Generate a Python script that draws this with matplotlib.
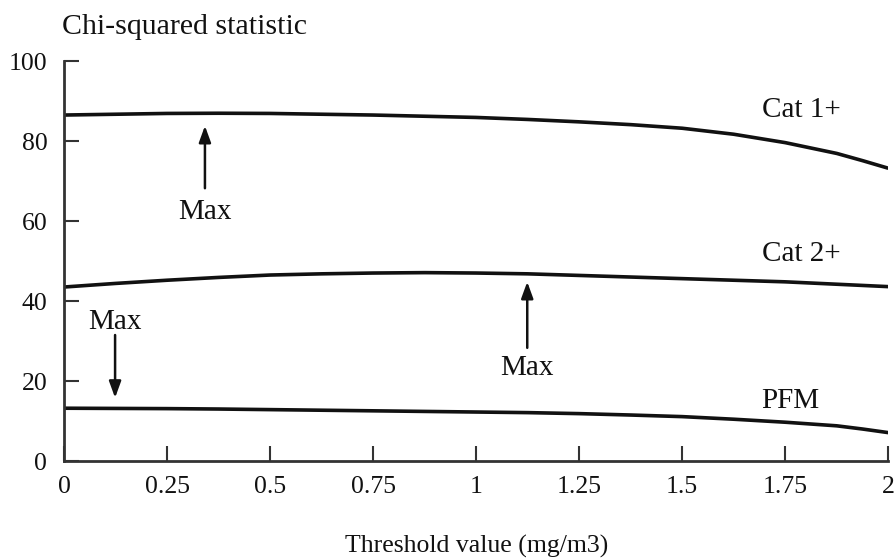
import matplotlib.pyplot as plt
import numpy as np

plt.rcParams['font.family'] = ['Liberation Serif', 'DejaVu Serif']

# values
x = [0, 0.125, 0.25, 0.375, 0.5, 0.625, 0.75, 0.875, 1.0, 1.125, 1.25,
     1.375, 1.5, 1.625, 1.75, 1.875, 1.9375, 2.0]
cat1 = [86.5, 86.7, 86.9, 86.95, 86.9, 86.7, 86.5, 86.2, 85.9, 85.4, 84.8,
        84.1, 83.2, 81.7, 79.6, 76.9, 75.1, 73.2]
cat2 = [43.5, 44.4, 45.2, 45.9, 46.5, 46.8, 47.0, 47.1, 47.0, 46.8, 46.4,
        46.0, 45.6, 45.2, 44.8, 44.2, 43.9, 43.6]
pfm = [13.2, 13.15, 13.1, 13.0, 12.85, 12.7, 12.55, 12.4, 12.25, 12.1, 11.85,
       11.5, 11.1, 10.45, 9.7, 8.8, 8.0, 7.1]

series_names = ['Cat 1+', 'Cat 2+', 'PFM']
label_pos = [(1.789, 87.8), (1.788, 51.8), (1.762, 15.0)]

# arrows: (x, tail y, head y, text y)
max_marks = [(0.342, 68.2, 83.8, 62.2),
             (1.124, 28.3, 44.8, 23.3),
             (0.124, 31.5, 15.8, 34.8)]

xticks = [0, 0.25, 0.5, 0.75, 1, 1.25, 1.5, 1.75, 2]
xticklabels = ['0', '0.25', '0.5', '0.75', '1', '1.25', '1.5', '1.75', '2']
yticks = [0, 20, 40, 60, 80, 100]

fig = plt.figure(figsize=(8.96, 5.58), dpi=100)
ax = fig.add_axes([0.0714, 0.1738, 0.92, 0.7168])

for ys in (cat1, cat2, pfm):
    ax.plot(x, ys, color='#111111', lw=2.6, solid_capstyle='butt')

for name, (lx, ly) in zip(series_names, label_pos):
    ax.text(lx, ly, name, ha='center', va='center', fontsize=21, color='#111111')

for mx, y0, y1, ty in max_marks:
    ax.annotate('', xy=(mx, y1), xytext=(mx, y0),
                arrowprops=dict(arrowstyle='-|>,head_length=0.55,head_width=0.2',
                                color='#111111', lw=1.8,
                                mutation_scale=18, shrinkA=0, shrinkB=0))
    ax.text(mx, ty, 'Max', ha='center', va='center', fontsize=21, color='#111111')

ax.set_xlim(0, 2)
ax.set_ylim(0, 100)
ax.set_xticks(xticks)
ax.set_xticklabels(xticklabels)
ax.set_yticks(yticks)
for s in ('top', 'right'):
    ax.spines[s].set_visible(False)
for s in ('left', 'bottom'):
    ax.spines[s].set_linewidth(2)
    ax.spines[s].set_color('#333333')
ax.tick_params(direction='in', length=11, width=1.5, color='#333333',
               labelsize=18.5, labelcolor='#111111')
ax.tick_params(axis='x', pad=11)
ax.tick_params(axis='y', pad=12)

ax.set_xlabel('Threshold value (mg/m3)', fontsize=18.5, labelpad=26, color='#111111')
fig.text(0.0692, 0.952, 'Chi-squared statistic', fontsize=21.5, ha='left',
         va='center', color='#111111')

fig.savefig('out.png', dpi=100)
